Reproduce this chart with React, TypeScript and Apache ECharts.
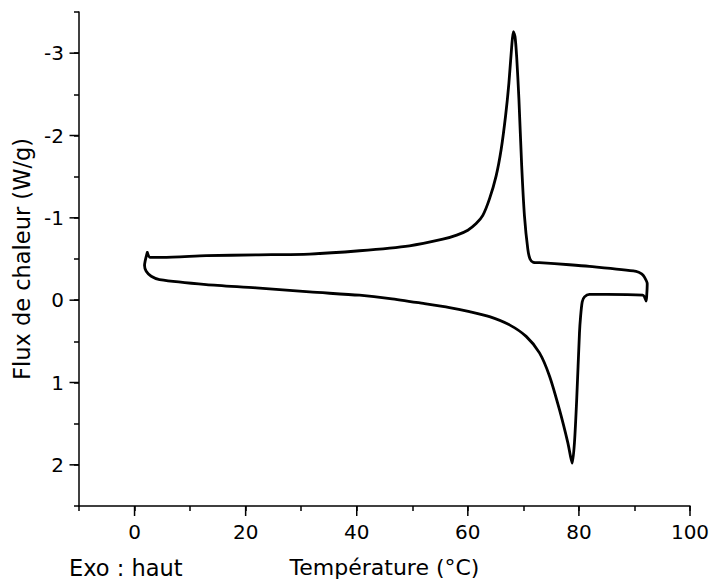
import React, { useEffect, useRef } from "react";
import * as echarts from "echarts";

// Temperature (°C) along the measured loop, in drawing order
const loopTemp: number[] = [
  2.3, 2.8, 5.0, 12.9, 21.9, 31.5, 40.5, 49.5, 55.5, 58.0, 60.0, 61.5, 62.7, 63.9, 65.1, 66.0, 66.8, 67.4, 67.9, 68.2,
  68.5, 68.8, 69.2, 69.7, 70.2, 70.8, 71.2, 71.8, 72.9, 78.3, 81.9, 90.3, 91.3, 91.8, 92.3, 92.2, 92.1, 91.8, 91.5,
  85.0, 81.9, 81.0, 80.6, 80.3, 80.1, 79.6, 79.2, 78.8, 78.5, 78.0, 76.5, 74.7, 72.9, 70.5, 67.5, 63.9, 60.3, 56.7,
  52.0, 46.0, 40.5, 31.5, 21.9, 12.9, 4.5, 3.0, 2.1, 1.8, 2.3,
];
// Heat flow (W/g) matching loopTemp
const loopFlux: number[] = [
  -0.58, -0.52, -0.52, -0.54, -0.55, -0.56, -0.6, -0.66, -0.74, -0.79, -0.85, -0.93, -1.03, -1.23, -1.51, -1.83, -2.24, -2.64, -3.08, -3.26,
  -3.2, -2.95, -2.44, -1.63, -1.02, -0.62, -0.5, -0.46, -0.455, -0.43, -0.41, -0.35, -0.32, -0.28, -0.2, -0.05, 0.01, -0.04, -0.06,
  -0.07, -0.07, -0.04, 0.02, 0.2, 0.4, 1.21, 1.73, 1.98, 1.9, 1.73, 1.33, 0.92, 0.64, 0.44, 0.3, 0.2, 0.14, 0.09,
  0.04, -0.02, -0.06, -0.1, -0.15, -0.19, -0.25, -0.29, -0.35, -0.42, -0.58,
];

const xMajorTicks: number[] = [0, 20, 40, 60, 80, 100];
const yMajorTicks: number[] = [-3, -2, -1, 0, 1, 2];

const X_MIN = -10;
const X_MAX = 100;
const Y_MIN = -3.5;
const Y_MAX = 2.5;

const FONT = "DejaVu Sans";

export default function App() {
  const ref = useRef<HTMLDivElement>(null);

  useEffect(() => {
    document.body.style.margin = "0";
    if (!ref.current) return;
    const chart = echarts.init(ref.current, null, { renderer: "svg" });
    const lineData = loopTemp.map((t, i) => [t, loopFlux[i]]);

    chart.setOption({
      animation: false,
      backgroundColor: "#ffffff",
      grid: { left: 79, top: 12, width: 611, height: 494, containLabel: false },
      xAxis: {
        type: "value",
        min: X_MIN,
        max: X_MAX,
        interval: 10,
        name: "Température (°C)",
        nameLocation: "middle",
        nameGap: 50,
        nameTextStyle: { color: "#000", fontSize: 22, fontFamily: FONT },
        axisLine: { show: true, onZero: false, lineStyle: { color: "#000", width: 1.5 } },
        axisTick: { show: true, inside: false, length: 5, lineStyle: { color: "#000", width: 1.5 } },
        axisLabel: {
          color: "#000",
          fontSize: 20,
          fontFamily: FONT,
          margin: 16,
          showMinLabel: true,
          showMaxLabel: true,
          formatter: (v: number) => (Math.abs(v % 20) < 1e-6 ? String(Math.round(v)) : ""),
        },
        splitLine: { show: false },
      },
      yAxis: {
        type: "value",
        inverse: true,
        min: Y_MIN,
        max: Y_MAX,
        interval: 0.5,
        name: "Flux de chaleur (W/g)",
        nameLocation: "middle",
        nameGap: 42,
        nameTextStyle: { color: "#000", fontSize: 22.5, fontFamily: FONT },
        axisLine: { show: true, onZero: false, lineStyle: { color: "#000", width: 1.5 } },
        axisTick: { show: true, inside: false, length: 5, lineStyle: { color: "#000", width: 1.5 } },
        axisLabel: {
          color: "#000",
          fontSize: 20,
          fontFamily: FONT,
          margin: 15,
          formatter: (v: number) => (Math.abs(v - Math.round(v)) < 1e-6 ? String(Math.round(v)) : ""),
        },
        splitLine: { show: false },
      },
      graphic: [
        {
          type: "text",
          left: 69,
          top: 556,
          style: { text: "Exo : haut", fill: "#000", fontSize: 22.5, fontFamily: FONT },
        },
      ],
      series: [
        {
          type: "line",
          data: lineData,
          showSymbol: false,
          smooth: 0.25,
          lineStyle: { color: "#000", width: 2.8, join: "round", cap: "round" },
          z: 3,
        },
        {
          type: "custom",
          clip: false,
          silent: true,
          data: xMajorTicks.map((v) => [v, Y_MAX]),
          renderItem: (_params: any, api: any) => {
            const p = api.coord([api.value(0), api.value(1)]);
            return {
              type: "line",
              shape: { x1: p[0], y1: p[1], x2: p[0], y2: p[1] + 10 },
              style: { stroke: "#000", lineWidth: 1.5 },
            };
          },
          z: 4,
        },
        {
          type: "custom",
          clip: false,
          silent: true,
          data: yMajorTicks.map((v) => [X_MIN, v]),
          renderItem: (_params: any, api: any) => {
            const p = api.coord([api.value(0), api.value(1)]);
            return {
              type: "line",
              shape: { x1: p[0] - 9.5, y1: p[1], x2: p[0], y2: p[1] },
              style: { stroke: "#000", lineWidth: 1.5 },
            };
          },
          z: 4,
        },
      ],
    });

    return () => {
      chart.dispose();
    };
  }, []);

  return (
    <div
      ref={ref}
      style={{ position: "fixed", left: 0, top: 0, width: 715, height: 584, background: "#fff" }}
    />
  );
}
